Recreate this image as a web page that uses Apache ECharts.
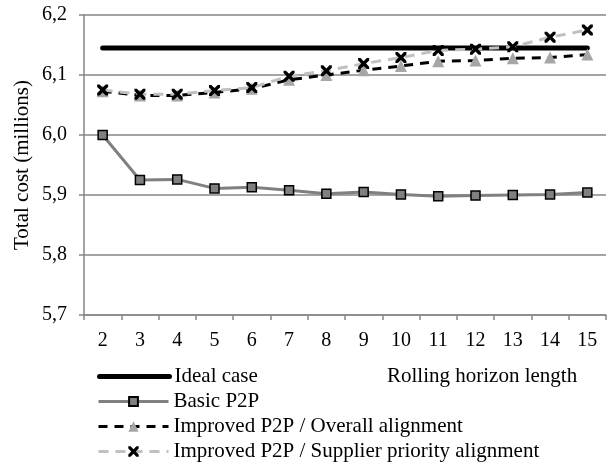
<!DOCTYPE html>
<html>
<head>
<meta charset="utf-8">
<script src="https://cdn.jsdelivr.net/npm/echarts@6/dist/echarts.min.js"></script>
<style>
html,body{margin:0;padding:0;background:#fff;}
#c{width:608px;height:464px;}
</style>
</head>
<body>
<div id="c"></div>
<script>
const categories = ['2','3','4','5','6','7','8','9','10','11','12','13','14','15'];
const idealCase = [6.145,6.145,6.145,6.145,6.145,6.145,6.145,6.145,6.145,6.145,6.145,6.145,6.145,6.145];
const basicP2P = [6.000,5.925,5.926,5.911,5.913,5.908,5.902,5.905,5.901,5.898,5.899,5.900,5.901,5.904];
const overallAlign = [6.073,6.066,6.066,6.071,6.077,6.092,6.100,6.108,6.115,6.123,6.124,6.128,6.129,6.134];
const supplierAlign = [6.075,6.068,6.068,6.074,6.079,6.098,6.107,6.119,6.129,6.141,6.143,6.147,6.163,6.175];
const seriesNames = ['Ideal case','Basic P2P','Improved P2P / Overall alignment','Improved P2P / Supplier priority alignment'];

const FONT = 'Liberation Serif';
const crossPath = 'path://M0,0 L2.2,0 L5,2.8 L7.8,0 L10,0 L10,2.2 L7.2,5 L10,7.8 L10,10 L7.8,10 L5,7.2 L2.2,10 L0,10 L0,7.8 L2.8,5 L0,2.2 Z';

function mkLegend(name, top, itemHeight, lineWidth, extra) {
  const item = Object.assign({name: name}, extra || {});
  return {
    orient: 'vertical',
    left: 97, top: top,
    itemWidth: 70, itemHeight: itemHeight,
    padding: 0,
    lineStyle: {width: lineWidth},
    textStyle: {fontFamily: FONT, fontSize: 21, color: '#000'},
    data: [item]
  };
}

const chart = echarts.init(document.getElementById('c'), null, {renderer:'canvas'});
chart.setOption({
  animation: false,
  backgroundColor: '#ffffff',
  textStyle: {fontFamily: FONT, color: '#000'},
  title: {
    text: 'Rolling horizon length',
    left: 387, top: 366,
    padding: 0,
    textStyle: {fontFamily: FONT, fontSize: 21, fontWeight: 'normal', color: '#000'}
  },
  grid: {left: 84, right: 2, top: 15, bottom: 149, containLabel: false},
  legend: [
    mkLegend(seriesNames[0], 366, 14, 5, {itemStyle: {opacity: 0}}),
    mkLegend(seriesNames[1], 391, 11, 3),
    mkLegend(seriesNames[2], 416, 13, 3),
    mkLegend(seriesNames[3], 441, 13, 3)
  ],
  xAxis: {
    type: 'category',
    data: categories,
    boundaryGap: true,
    axisLine: {lineStyle: {color: '#868686', width: 1.5}},
    axisTick: {show: true, length: 5, lineStyle: {color: '#868686', width: 1.5}},
    axisLabel: {fontFamily: FONT, fontSize: 20, color: '#000', margin: 16},
    splitLine: {show: false}
  },
  yAxis: {
    type: 'value',
    min: 5.7, max: 6.2, interval: 0.1,
    name: 'Total cost (millions)',
    nameLocation: 'middle',
    nameRotate: 90,
    nameGap: 51,
    nameMoveOverlap: false,
    nameTextStyle: {fontFamily: FONT, fontSize: 21, color: '#000'},
    axisLine: {show: true, lineStyle: {color: '#868686', width: 1.5}},
    axisTick: {show: true, length: 5, lineStyle: {color: '#868686', width: 1.5}},
    axisLabel: {fontFamily: FONT, fontSize: 20, color: '#000', margin: 17,
      formatter: v => v.toFixed(1).replace('.', ',')},
    splitLine: {show: true, lineStyle: {color: '#868686', width: 1.5}}
  },
  series: [
    {
      name: seriesNames[0], type: 'line', data: idealCase,
      symbol: 'none', showSymbol: false,
      lineStyle: {color: '#000', width: 5, cap: 'round'},
      itemStyle: {color: '#000'}, z: 2
    },
    {
      name: seriesNames[1], type: 'line', data: basicP2P,
      symbol: 'rect', symbolSize: 9,
      lineStyle: {color: '#808080', width: 3},
      itemStyle: {color: '#808080', borderColor: '#000', borderWidth: 1.5}, z: 3
    },
    {
      name: seriesNames[2], type: 'line', data: overallAlign,
      symbol: 'triangle', symbolSize: 12,
      lineStyle: {color: '#000', width: 3, type: [9, 7]},
      itemStyle: {color: '#a6a6a6', borderWidth: 0}, z: 4
    },
    {
      name: seriesNames[3], type: 'line', data: supplierAlign,
      symbol: crossPath, symbolSize: 11,
      lineStyle: {color: '#c0c0c0', width: 3, type: [10, 7]},
      itemStyle: {color: '#000', borderWidth: 0}, z: 5
    }
  ]
});
</script>
</body>
</html>
